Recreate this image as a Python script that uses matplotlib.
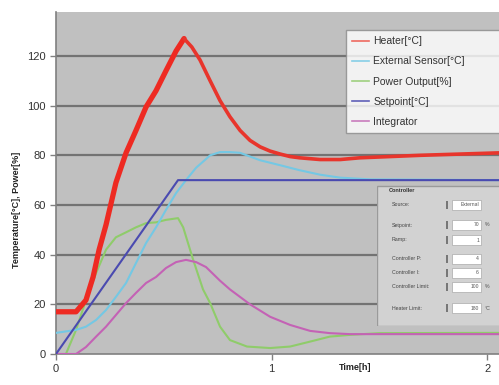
"""Heater controller step response: temperatures, power output and integrator over time."""

import matplotlib

matplotlib.use("Agg")
import matplotlib.pyplot as plt
from matplotlib.patches import Rectangle

plt.rcParams["font.family"] = ["Liberation Sans", "DejaVu Sans"]

# values (time in hours)
heater_t = [0, 0.093, 0.139, 0.172, 0.20, 0.232, 0.278, 0.325, 0.371, 0.418, 0.464,
            0.51, 0.557, 0.594, 0.63, 0.668, 0.715, 0.761, 0.807, 0.854, 0.90,
            0.947, 0.993, 1.04, 1.086, 1.13, 1.225, 1.318, 1.41, 1.69, 2.06]
heater_v = [17, 17, 21.7, 31, 42, 52, 69, 81, 90, 99.5, 106,
            114, 122, 127, 123.6, 118.4, 110, 102, 95.5, 90, 86,
            83.4, 81.7, 80.5, 79.5, 79, 78.3, 78.3, 79, 80, 81]
heater_peak = 13  # index of the peak, rise drawn thicker than decay

sensor_t = [0, 0.093, 0.139, 0.186, 0.232, 0.278, 0.325, 0.371, 0.418, 0.464, 0.51,
            0.557, 0.603, 0.65, 0.696, 0.715, 0.761, 0.807, 0.854, 0.90, 0.947,
            1.04, 1.13, 1.225, 1.318, 1.46, 2.06]
sensor_v = [8.5, 9.7, 11, 13.7, 17.7, 23, 28.6, 36.6, 44.7, 51, 58,
            64.8, 70, 75, 78.5, 80, 81.3, 81.3, 81, 79.5, 78,
            76, 74, 72.2, 71, 70.3, 70]

power_t = [0, 0.046, 0.093, 0.139, 0.186, 0.232, 0.278, 0.325, 0.371, 0.418, 0.464,
           0.51, 0.566, 0.59, 0.636, 0.682, 0.715, 0.761, 0.807, 0.886, 0.993,
           1.086, 1.179, 1.27, 1.364, 1.5, 2.06]
power_v = [0, 0, 9.7, 21.7, 32.6, 42, 47, 49, 51, 52.7, 53,
           54, 54.7, 51, 38, 26, 20.5, 11, 5.6, 3, 2.4,
           3, 5, 7, 7.7, 8.4, 8.5]

setpoint_t = [0, 0.566, 2.06]
setpoint_v = [0, 70, 70]

integ_t = [0, 0.093, 0.139, 0.186, 0.232, 0.278, 0.325, 0.371, 0.418, 0.464, 0.51,
           0.557, 0.603, 0.65, 0.696, 0.761, 0.807, 0.90, 0.993, 1.086, 1.179,
           1.27, 1.364, 2.06]
integ_v = [0, 0, 2.8, 7, 11, 15.7, 20.5, 24.6, 28.6, 31, 34.6,
           37, 37.9, 37, 35, 29.5, 26, 20, 15, 11.7, 9.3,
           8.4, 8, 8]

yticks = [0, 20, 40, 60, 80, 100, 120]
xticks = [0, 1, 2]

panel_rows = ["Source:", "Setpoint:", "Ramp:", "Controller P:", "Controller I:",
              "Controller Limit:", "Heater Limit:"]
panel_values = ["External", "70", "1", "4", "6", "100", "180"]
panel_units = ["", "%", "", "", "", "%", "°C"]

W, H = 499, 385
fig = plt.figure(figsize=(W / 100, H / 100), dpi=100)
fig.patch.set_facecolor("white")

ax = fig.add_axes([56 / W, 1 - 354 / H, 443 / W, 342 / H])
ax.set_facecolor("#c0c0c0")
ax.set_xlim(0, 2.055)
ax.set_ylim(0, 137.7)

for y in yticks[1:]:
    ax.axhline(y, color="#737373", lw=1.6, zorder=1)

ax.plot(power_t, power_v, color="#8fcc6a", lw=1.5, zorder=3)
ax.plot(integ_t, integ_v, color="#c462b5", lw=1.5, zorder=3)
ax.plot(sensor_t, sensor_v, color="#74c8e4", lw=1.5, zorder=3)
ax.plot(setpoint_t, setpoint_v, color="#4a4ab0", lw=1.5, zorder=4)
ax.plot(heater_t[:heater_peak + 1], heater_v[:heater_peak + 1], color="#ee2a22",
        lw=3.8, zorder=5, solid_capstyle="round")
ax.plot(heater_t[heater_peak:], heater_v[heater_peak:], color="#e8352c",
        lw=2.6, zorder=5, solid_capstyle="round")

for side in ("top", "right"):
    ax.spines[side].set_visible(False)
for side in ("left", "bottom"):
    ax.spines[side].set_color("#808080")
    ax.spines[side].set_linewidth(1.2)

ax.set_yticks(yticks)
ax.set_xticks(xticks)
ax.tick_params(axis="both", colors="#808080", labelcolor="#333333", labelsize=8,
               length=4, width=1)
ax.tick_params(axis="x", pad=3)

fig.text(355 / W, 1 - 367 / H, "Time[h]", fontsize=6.5, fontweight="bold",
         color="#222222", ha="center", va="center")
fig.text(17 / W, 1 - 210 / H, "Temperature[°C], Power[%]", fontsize=6.5,
         fontweight="bold", color="#222222", rotation=90, ha="center", va="center")

handles = [
    plt.Line2D([], [], color="#ee6a60", lw=1.2),
    plt.Line2D([], [], color="#86cfe6", lw=1.2),
    plt.Line2D([], [], color="#9fd07f", lw=1.2),
    plt.Line2D([], [], color="#6060b8", lw=1.2),
    plt.Line2D([], [], color="#c97cbd", lw=1.2),
]
labels = ["Heater[°C]", "External Sensor[°C]", "Power Output[%]", "Setpoint[°C]",
          "Integrator"]
leg = fig.legend(handles, labels, loc="upper left",
                 bbox_to_anchor=(346 / W, 1 - 131 / H, 170 / W, 101 / H),
                 mode="expand", fontsize=7.5, frameon=True, fancybox=False,
                 handlelength=1.6, handletextpad=0.4, labelspacing=0.98,
                 borderpad=0.6, borderaxespad=0)
leg.get_frame().set_edgecolor("#8a8a8a")
leg.get_frame().set_linewidth(1.0)
for txt in leg.get_texts():
    txt.set_color("#333333")

# controller panel, drawn in pixel coordinates
pan = fig.add_axes([377 / W, 1 - 326 / H, 130 / W, 141 / H])
pan.set_xlim(377, 507)
pan.set_ylim(326, 185)
pan.axis("off")
pan.add_patch(Rectangle((377.5, 185.5), 130, 140, facecolor="#d2d2d2",
                        edgecolor="#9a9a9a", lw=1.0))
pan.text(389, 190, "Controller", fontsize=4, fontweight="bold", color="#333333",
         va="center")
row_y = [205, 225, 240, 259, 273, 287, 308]
for label, value, unit, y in zip(panel_rows, panel_values, panel_units, row_y):
    pan.text(392, y, label, fontsize=3.8, color="#444444", va="center")
    pan.add_patch(Rectangle((446, y - 4), 2.5, 8, facecolor="#777777", lw=0))
    pan.add_patch(Rectangle((452, y - 5), 29, 10, facecolor="white",
                            edgecolor="#aaaaaa", lw=0.5))
    pan.text(479, y, value, fontsize=3.6, color="#555555", va="center", ha="right")
    if unit:
        pan.text(485, y, unit, fontsize=3.8, color="#555555", va="center")

fig.savefig("out.png", dpi=100)
